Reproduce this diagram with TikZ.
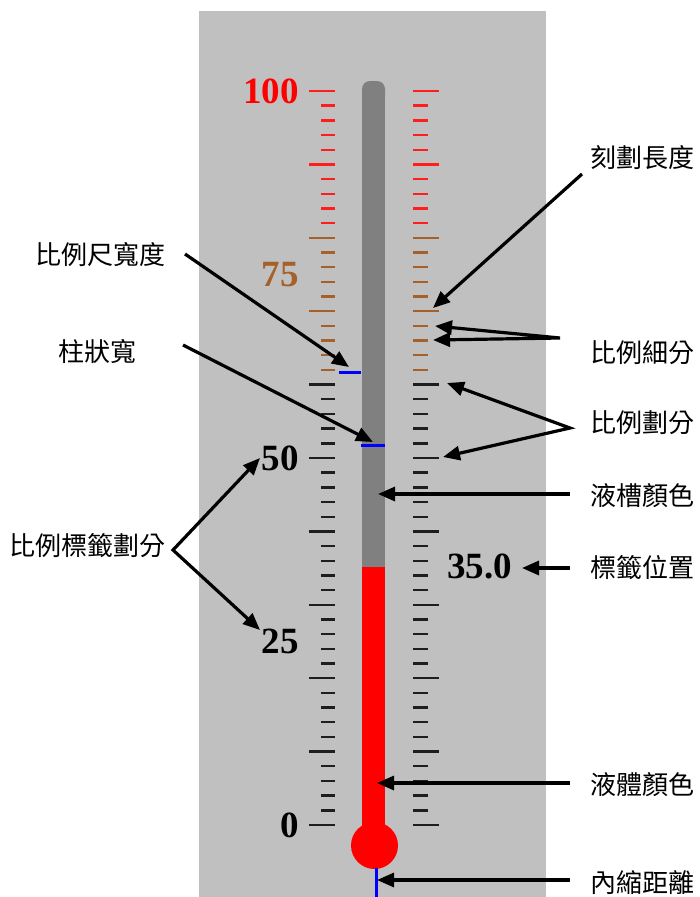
\documentclass[tikz,border=0pt]{standalone}
\usepackage{fontspec}
\setmainfont{Liberation Serif}
\newfontfamily\cjk{Noto Sans CJK TC}
\usetikzlibrary{arrows.meta}
\definecolor{panel}{RGB}{192,192,192}
\definecolor{tube}{RGB}{128,128,128}
\definecolor{tickred}{RGB}{255,30,30}
\definecolor{tickbrown}{RGB}{166,96,42}
\definecolor{tickblack}{RGB}{30,30,30}

\begin{document}
\begin{tikzpicture}[x=1pt,y=-1pt,>={Triangle[length=17pt,width=14pt]},
  callout/.style={line width=3.2pt,black},
  caption/.style={font={\cjk\fontsize{26pt}{30pt}\selectfont},inner sep=0pt},
  scalenum/.style={font={\fontsize{37pt}{40pt}\selectfont\bfseries},inner sep=0pt,anchor=east},
  tickmark/.style={line width=2.4pt}]
\useasboundingbox (0,0) rectangle (700,897);
\fill[white] (0,0) rectangle (700,897);
% ---------- gauge panel ----------
\fill[panel] (199,11) rectangle (546,897);
% ---------- scale ticks, every 2 units, major every 10 ----------
\foreach \i in {0,...,50}{
  \pgfmathsetmacro{\ty}{825-14.68*\i}
  \ifnum\i>40 \def\tc{tickred}\else\ifnum\i>30 \def\tc{tickbrown}\else\def\tc{tickblack}\fi\fi
  \pgfmathtruncatemacro{\ismajor}{mod(\i,5)==0}
  \ifnum\ismajor=1
    \draw[tickmark,\tc] (309,\ty) -- (335,\ty);
    \draw[tickmark,\tc] (413,\ty) -- (439,\ty);
  \else
    \draw[tickmark,\tc] (321,\ty) -- (335,\ty);
    \draw[tickmark,\tc] (413,\ty) -- (428,\ty);
  \fi
}
% ---------- scale numbers ----------
\foreach \v/\c in {100/red,75/tickbrown,50/black,25/black,0/black}
  \node[scalenum,text=\c] (num\v) at (299,{825-7.34*\v}) {\v};
% ---------- tube, liquid and bulb ----------
\fill[tube] (362,567) rectangle (385,95);
\fill[tube,rounded corners=8pt] (362,105) rectangle (385,81);
\fill[red] (362,567) rectangle (385,840);
\fill[red] (374.5,845.5) circle[radius=23.5pt];
\draw[blue,line width=3.5pt] (376.5,868) -- (376.5,897);
\draw[blue,line width=3.5pt] (339,372.7) -- (361,372.7);
\draw[blue,line width=3.5pt] (361,445.7) -- (385,445.7);
\node[scalenum,anchor=west] (readout) at (447,566) {35.0};
% ---------- captions ----------
\node[caption,anchor=west] (ticklen) at (590,158) {刻劃長度};
\node[caption,anchor=east] (scalewidth) at (166,255) {比例尺寬度};
\node[caption,anchor=east] (barwidth) at (137,352) {柱狀寬};
\node[caption,anchor=west] (minordiv) at (590,353) {比例細分};
\node[caption,anchor=west] (majordiv) at (590,423) {比例劃分};
\node[caption,anchor=west] (bathcolor) at (590,496) {液槽顏色};
\node[caption,anchor=east] (labeldiv) at (166,546) {比例標籤劃分};
\node[caption,anchor=west] (labelpos) at (590,568) {標籤位置};
\node[caption,anchor=west] (liquidcolor) at (590,785) {液體顏色};
\node[caption,anchor=west] (indent) at (590,883) {內縮距離};
% ---------- arrow targets ----------
\coordinate (ticklentip) at (433,308);
\coordinate (scalewidthtip) at (349,367);
\coordinate (barwidthtip) at (373,442);
\coordinate (minortipA) at (435,326);
\coordinate (minortipB) at (433,340);
\coordinate (majortipA) at (447,383);
\coordinate (majortipB) at (443,457);
\coordinate (bathtip) at (378,494);
\coordinate (tip50) at (260,458);
\coordinate (tip25) at (260,630);
\coordinate (labelpostip) at (522,568);
\coordinate (liquidtip) at (377,783);
\coordinate (indenttip) at (377,880);
% ---------- callout arrows ----------
\draw[callout,->] ([xshift=-8pt,yshift=-16pt]ticklen.west) -- (ticklentip);
\draw[callout,->] ([xshift=19pt,yshift=1pt]scalewidth.east) -- (scalewidthtip);
\draw[callout,->] ([xshift=46pt,yshift=7pt]barwidth.east) -- (barwidthtip);
\draw[callout,<->] (minortipA) -- ([xshift=-30pt,yshift=15pt]minordiv.west) -- (minortipB);
\draw[callout,<->] (majortipA) -- ([xshift=-20pt,yshift=-5pt]majordiv.west) -- (majortipB);
\draw[callout,->] ([xshift=-20pt,yshift=2pt]bathcolor.west) -- (bathtip);
\draw[callout,<->] (tip50) -- ([xshift=7pt,yshift=-4pt]labeldiv.east) -- (tip25);
\draw[callout,->] ([xshift=-20pt]labelpos.west) -- (labelpostip);
\draw[callout,->] ([xshift=-20pt,yshift=2pt]liquidcolor.west) -- (liquidtip);
\draw[callout,->] ([xshift=-20pt,yshift=3pt]indent.west) -- (indenttip);
\end{tikzpicture}
\end{document}
